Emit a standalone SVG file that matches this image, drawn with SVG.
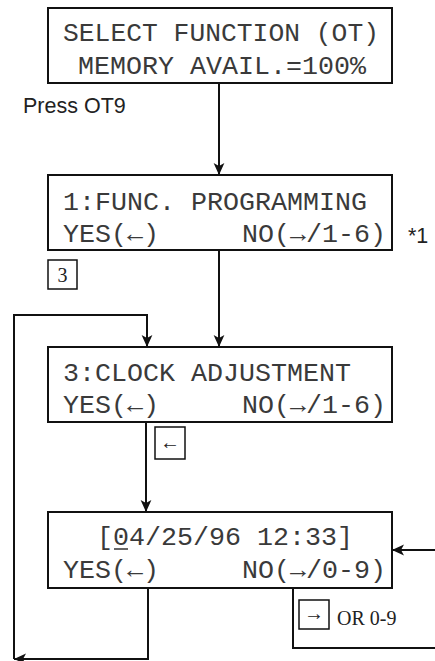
<svg xmlns="http://www.w3.org/2000/svg" width="435" height="661" viewBox="0 0 435 661">
<style>
.box{fill:#fff;stroke:#111;stroke-width:2}
.lcd{font-family:"Liberation Mono","DejaVu Sans Mono",monospace;font-size:25px;fill:#3a3a3a}
.sans{font-family:"Liberation Sans",Arial,sans-serif;font-size:21.5px;fill:#222}
.serif{font-family:"Liberation Serif","Times New Roman",serif;font-size:20px;fill:#222}
.con{fill:none;stroke:#111;stroke-width:2}
</style>
<defs>
<marker id="ah" viewBox="0 0 10 10" refX="10" refY="5" markerWidth="6" markerHeight="6" orient="auto" markerUnits="strokeWidth">
<path d="M0,0.5 L10,5 L0,9.5 L2.5,5 z" fill="#111"/>
</marker>
</defs>
<g id="connectors">
<path class="con" d="M219,83 V175" marker-end="url(#ah)"/>
<path class="con" d="M219,250 V347" marker-end="url(#ah)"/>
<path class="con" d="M146,422 V512" marker-end="url(#ah)"/>
<path class="con" d="M435,550 H392" marker-end="url(#ah)"/>
<path class="con" d="M293,588 V648 H435"/>
<path class="con" d="M148,588 V659 H14" marker-end="url(#ah)"/>
<path class="con" d="M14,659 V315 H147 V347" marker-end="url(#ah)"/>
</g>
<g id="n1">
<rect class="box" x="48" y="8" width="344" height="75"/>
<text class="lcd" x="63" y="41" textLength="316" lengthAdjust="spacingAndGlyphs">SELECT FUNCTION (OT)</text>
<text class="lcd" x="78" y="74" textLength="288" lengthAdjust="spacingAndGlyphs">MEMORY AVAIL.=100%</text>
</g>
<g id="press">
<text class="sans" x="23" y="113">Press OT9</text>
</g>
<g id="n2">
<rect class="box" x="48" y="175" width="344" height="75"/>
<text class="lcd" x="63" y="210" textLength="304" lengthAdjust="spacingAndGlyphs">1:FUNC. PROGRAMMING</text>
<text class="lcd" x="63" y="242" textLength="96" lengthAdjust="spacingAndGlyphs">YES(←)</text>
<text class="lcd" x="242" y="242" textLength="144" lengthAdjust="spacingAndGlyphs">NO(→/1-6)</text>
</g>
<g id="note1">
<text class="sans" x="408" y="243" font-size="19">*1</text>
</g>
<g id="k3">
<rect class="box" x="48" y="260" width="29" height="29" style="stroke-width:1.5"/>
<text class="serif" x="62.5" y="282" text-anchor="middle" font-size="18">3</text>
</g>
<g id="n3">
<rect class="box" x="48" y="347" width="344" height="75"/>
<text class="lcd" x="63" y="381" textLength="288" lengthAdjust="spacingAndGlyphs">3:CLOCK ADJUSTMENT</text>
<text class="lcd" x="63" y="413" textLength="96" lengthAdjust="spacingAndGlyphs">YES(←)</text>
<text class="lcd" x="242" y="413" textLength="144" lengthAdjust="spacingAndGlyphs">NO(→/1-6)</text>
</g>
<g id="kleft">
<rect class="box" x="155" y="427" width="30" height="32" style="stroke-width:1.5"/>
<text class="serif" x="170" y="449" text-anchor="middle" font-size="18" fill="#555">←</text>
</g>
<g id="n4">
<rect class="box" x="48" y="512" width="344" height="76"/>
<text class="lcd" x="97" y="545" textLength="256" lengthAdjust="spacingAndGlyphs">[04/25/96 12:33]</text>
<line x1="114" y1="549" x2="128" y2="549" stroke="#333" stroke-width="1.5"/>
<text class="lcd" x="63" y="578" textLength="96" lengthAdjust="spacingAndGlyphs">YES(←)</text>
<text class="lcd" x="242" y="578" textLength="144" lengthAdjust="spacingAndGlyphs">NO(→/0-9)</text>
</g>
<g id="kright">
<rect class="box" x="299" y="600" width="30" height="29" style="stroke-width:1.5"/>
<text class="serif" x="314" y="620" text-anchor="middle" font-size="18">→</text>
<text class="serif" x="337" y="625" font-size="22">OR 0-9</text>
</g>
</svg>
